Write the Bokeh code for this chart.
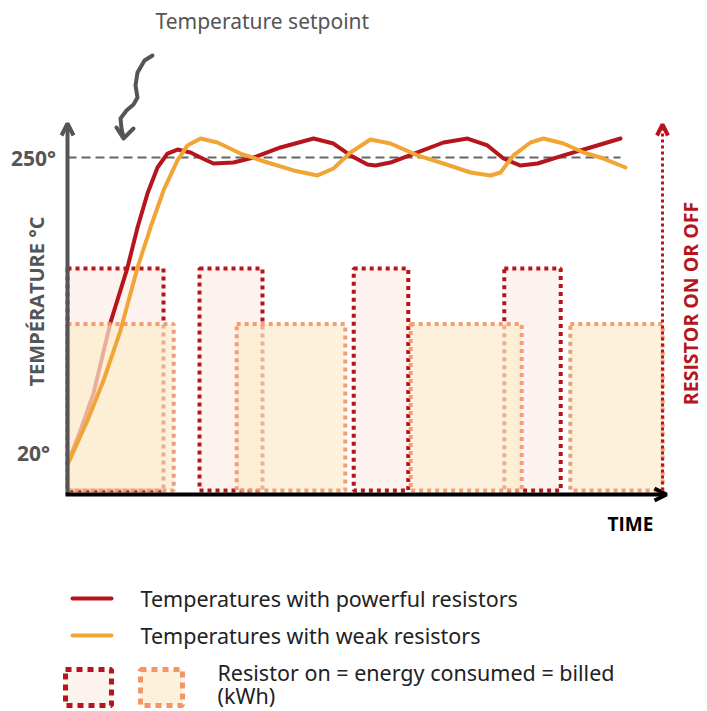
from math import pi
from bokeh.plotting import figure
from bokeh.models import Range1d, Arrow, OpenHead
from bokeh.embed import file_html
from bokeh.resources import INLINE
from bokeh.core.properties import value

# ---------------- data ----------------
time_powerful = [0, 2.17, 4.33, 7.17, 10, 11.67, 13.33, 15, 16.67, 18.33, 20.5, 22.17, 24.33,
                 27.67, 31, 35.5, 41, 44.33, 47.17, 50, 51.33, 53.83, 58.33, 62.67, 66.67, 70,
                 72.67, 75.5, 78.33, 82.67, 87.17, 92.17]
temp_powerful = [11.4, 37.2, 66.0, 121.4, 164.2, 195.4, 221.9, 242.2, 253.1, 256.2, 253.9, 250.0,
                 245.3, 246.1, 250.0, 257.8, 264.8, 260.9, 251.6, 244.5, 243.7, 246.1, 253.9,
                 261.7, 264.8, 259.4, 249.2, 243.7, 245.3, 251.6, 257.8, 264.8]
time_weak = [0, 3.33, 6, 8.83, 11.67, 13.83, 16, 18.33, 20, 22.17, 25, 28.83, 33.33, 37.67,
             41.67, 44.33, 47.17, 50.5, 53.83, 58.33, 62.67, 67.17, 70.5, 72.17, 74.33, 77.17,
             79.33, 82.67, 86, 89.33, 93]
temp_weak = [10.5, 45.0, 76.1, 115.1, 164.2, 195.4, 224.3, 247.7, 259.4, 264.8, 261.7, 253.1,
             246.1, 239.9, 236.0, 241.4, 253.9, 264.0, 260.9, 251.6, 245.3, 238.3, 236.0, 238.3,
             251.6, 261.7, 264.8, 260.9, 253.9, 249.2, 242.2]
powerful_on_start = [0, 22, 47.7, 72.8]
powerful_on_end = [16, 32.5, 56.8, 82.2]
weak_on_start = [0, 28.2, 57.2, 83.8]
weak_on_end = [17.7, 46.3, 75.7, 99.2]
powerful_level = 1.0
weak_level = 0.75
setpoint = 250
tick_values = [20, 250]
tick_labels = ["20°", "250°"]

# ---------------- geometry ----------------
W, H = 705, 709
PX_T = 6.0
PX_DEG = 295.0 / 230.0
PX_POW = 222.0
x_start = -67 / PX_T
x_end = x_start + W / PX_T
y_end = 20 + 452 / PX_DEG
y_start = y_end - H / PX_DEG
p_end = 490 / PX_POW
p_start = p_end - H / PX_POW


def wx(px):
    return x_start + px / PX_T


def wy(py):
    return y_end - py / PX_DEG


RED = "#b5151b"
ORANGE = "#f0a535"
ORANGE_BORDER = "#f3946a"
GRAY = "#555555"
AXIS_FONT = value("Open Sans")
HAND_FONT = value("Noto Sans")

p = figure(width=W, height=H, x_range=Range1d(x_start, x_end), y_range=Range1d(y_start, y_end),
           output_backend="svg", toolbar_location=None, min_border=0,
           x_axis_type=None, y_axis_type=None, outline_line_color=None)
p.grid.visible = False
p.extra_y_ranges = {"power": Range1d(p_start, p_end)}
p.background_fill_color = "white"
p.border_fill_color = "white"

# resistor-on boxes (powerful)
p.quad(left=powerful_on_start, right=powerful_on_end, bottom=0,
       top=[powerful_level] * len(powerful_on_start), y_range_name="power",
       fill_color="#fcf2ee", line_color=RED, line_width=4, line_dash="4 4")

# setpoint
p.line(x=[0, wx(620)], y=[setpoint, setpoint], line_color="#666666", line_width=2, line_dash="9 5")

# powerful curve
p.line(time_powerful, temp_powerful, line_color=RED, line_width=4, line_join="round", line_cap="round")

# weak boxes
p.quad(left=weak_on_start, right=weak_on_end, bottom=0,
       top=[weak_level] * len(weak_on_start), y_range_name="power",
       fill_color="#fdeccd", fill_alpha=0.72, line_color=ORANGE_BORDER, line_alpha=0.9,
       line_width=4, line_dash="4 4")

# weak curve
p.line(time_weak, temp_weak, line_color=ORANGE, line_width=4, line_join="round", line_cap="round")

# axes
p.add_layout(Arrow(end=OpenHead(size=12, line_width=4, line_color=GRAY),
                   x_start=0, y_start=wy(494), x_end=0, y_end=wy(123),
                   line_color=GRAY, line_width=4))
p.add_layout(Arrow(end=OpenHead(size=12, line_width=4, line_color="black"),
                   x_start=wx(65), y_start=wy(494), x_end=wx(666), y_end=wy(494),
                   line_color="black", line_width=4))
p.add_layout(Arrow(end=OpenHead(size=11, line_width=4, line_color=RED),
                   x_start=wx(662), y_start=wy(490), x_end=wx(662), y_end=wy(124),
                   line_color=RED, line_width=3, line_dash="3 3"))

# tick labels
p.text(x=[wx(33)] * 2, y=tick_values, text=tick_labels, text_align="center", text_baseline="middle",
       text_font=AXIS_FONT, text_font_style="bold", text_font_size="21px", text_color=GRAY)

# axis titles
p.text(x=[wx(36)], y=[wy(301)], text=["TEMPÉRATURE °C"], angle=pi / 2, text_align="center",
       text_baseline="middle", text_font=AXIS_FONT, text_font_style="bold",
       text_font_size="20px", text_color=GRAY)
p.text(x=[wx(690)], y=[wy(303)], text=["RESISTOR ON OR OFF"], angle=pi / 2, text_align="center",
       text_baseline="middle", text_font=AXIS_FONT, text_font_style="bold",
       text_font_size="19.5px", text_color=RED)
p.text(x=[wx(630)], y=[wy(523)], text=["TIME"], text_align="center", text_baseline="middle",
       text_font=AXIS_FONT, text_font_style="bold", text_font_size="19px", text_color="black")

# annotation: setpoint
p.text(x=[wx(155)], y=[wy(20)], text=["Temperature setpoint"], text_align="left",
       text_baseline="middle", text_font=HAND_FONT, text_font_size="21px", text_color=GRAY)
sq_x = [wx(152), wx(144), wx(137), wx(135), wx(137), wx(133), wx(126), wx(120), wx(121), wx(123)]
sq_y = [wy(55), wy(60), wy(72), wy(85), wy(97), wy(104), wy(110), wy(118), wy(128), wy(137)]
p.line(sq_x, sq_y, line_color=GRAY, line_width=4, line_join="round", line_cap="round")
p.line([wx(116), wx(123), wx(133)], [wy(127), wy(138), wy(128)], line_color=GRAY, line_width=4,
       line_join="round", line_cap="round")

# legend
p.line([wx(72), wx(111)], [wy(598), wy(598)], line_color=RED, line_width=4, line_cap="round")
p.line([wx(72), wx(111)], [wy(635), wy(635)], line_color=ORANGE, line_width=4, line_cap="round")
p.text(x=[wx(140), wx(140)], y=[wy(598), wy(635)],
       text=["Temperatures with powerful resistors", "Temperatures with weak resistors"],
       text_align="left", text_baseline="middle", text_font=HAND_FONT,
       text_font_size="21.5px", text_color="#222222")
p.quad(left=[wx(65)], right=[wx(111)], top=[wy(669)], bottom=[wy(705)], fill_color="#fcf2ee",
       line_color=RED, line_width=5, line_dash="6 5")
p.quad(left=[wx(140)], right=[wx(182)], top=[wy(669)], bottom=[wy(705)], fill_color="#fef1d9",
       line_color=ORANGE_BORDER, line_width=5, line_dash="6 5")
p.text(x=[wx(217), wx(217)], y=[wy(672), wy(695)],
       text=["Resistor on = energy consumed = billed", "(kWh)"],
       text_align="left", text_baseline="middle", text_font=HAND_FONT,
       text_font_size="21.5px", text_color="#222222")

open("out.html", "w").write(file_html(p, INLINE))
